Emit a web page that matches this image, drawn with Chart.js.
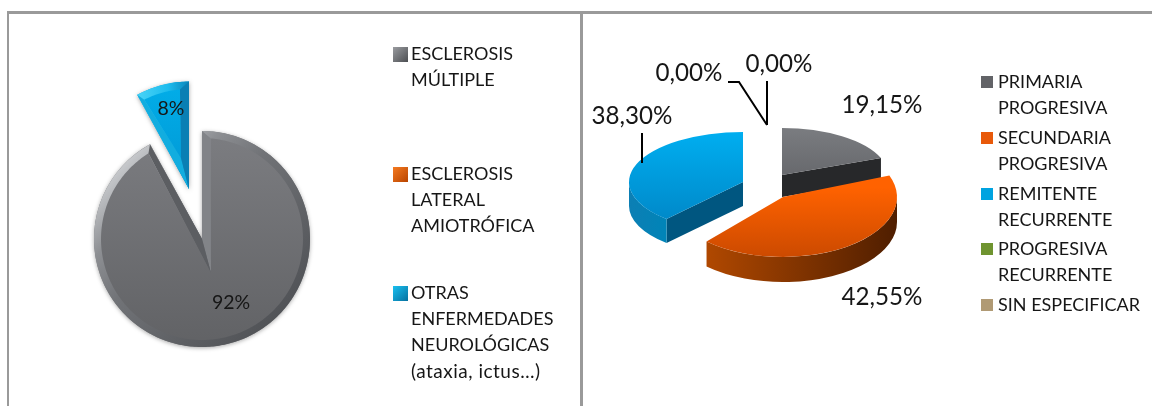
<!DOCTYPE html>
<html><head><meta charset="utf-8">
<script src="https://cdn.jsdelivr.net/npm/chart.js@4"></script>
<style>
html,body{margin:0;padding:0;background:#fff;width:1152px;height:406px;overflow:hidden}
canvas{position:absolute;top:0;filter:blur(.4px)}
.rule{position:absolute;background:#9a9a9a}
</style></head><body>
<div class="rule" style="left:8px;top:11px;width:1144px;height:3px"></div>
<div class="rule" style="left:7px;top:11px;width:2px;height:395px"></div>
<div class="rule" style="left:580px;top:11px;width:3px;height:395px"></div>
<canvas id="left" width="580" height="406" style="left:0"></canvas>
<canvas id="right" width="569" height="406" style="left:583px"></canvas>
<script>
// ---- data ----
const leftCategories = [['ESCLEROSIS','MÚLTIPLE'],['ESCLEROSIS','LATERAL','AMIOTRÓFICA'],['OTRAS','ENFERMEDADES','NEUROLÓGICAS','(ataxia, ictus…)']];
const leftValues = [92, 0, 8];
const leftLabels = ['92%', '', '8%'];
const rightCategories = [['PRIMARIA','PROGRESIVA'],['SECUNDARIA','PROGRESIVA'],['REMITENTE','RECURRENTE'],['PROGRESIVA','RECURRENTE'],['SIN ESPECIFICAR']];
const rightValues = [19.15, 42.55, 38.30, 0, 0];
const rightLabels = ['19,15%', '42,55%', '38,30%', '0,00%', '0,00%'];

// ---- style ----
const FONT = 'Lato, Carlito, sans-serif';
const INK = '#161616';
const leftStyle = {
  scale: [1,1,.995],
  shift: [[0,0],[0,0],[-13,-50]],
  labelAt: [[231,303],null,[171,109]],
  legendX: 393, legendTextX: 411, lineH: 26.3,
  legendY: [54,174,293],
  swatch: [['#9a9ca0','#4c4e52'],['#f57a20','#b84400'],['#19c0f0','#06709f']],
  swatchSize: 15
};
const rightStyle = {
  scale: [[1.06,.47],[1.14,.60],[1.14,.50],[1,.5],[1,.5]],
  shift: [[17,-11],[18,11],[-22,-4],[0,0],[0,0]],
  depth: [22,25,24,0,0],
  faces: [['#7a7c80','#55565a',0],['#ff6200','#cc4a00',.42],['#00aef0','#0084c4',0],['#6b8e23','#6b8e23',0],['#b09a74','#b09a74',0]],
  walls: [['#2b2c2e','#242527'],['#b04800','#4f1e00'],['#0c7fb4','#0084b8'],['#000','#000'],['#000','#000']],
  cutWalls: ['#27282a','#000','#005680','#000','#000'],
  labelAt: [[882,105],[882,297],[632,116],[689,73],[779,64]],
  leaders: [null,null,[[642,133],[642,163]],[[728,82],[739,82],[767,125]],[[767,81],[767,125]]],
  legendColors: ['#626367','#e8590a','#00a3e0','#6f9430','#b09a74'],
  legendY: [82,138,194,249,305],
  legendX: 981, legendTextX: 998, lineH: 25.7, swatchSize: 12
};
const bevels = {
  0:{apex:[9,34], f:.935, d0:5, d1:3.2,
     ring:[[0,'#cdcfd2'],[.22,'#8d8f93'],[.42,'#717377'],[1,'#505256']], side0:'#828488', side1:'#5c5e62',
     ringBox:[-80,-80,80,80], faceBox:[-108,108],
     face:[[0,'#7c7d81'],[1,'#616265']]},
  2:{apex:[-8,-31], f:.93, d0:2.2, d1:5.2,
     ring:[[0,'#4ad4f7'],[.6,'#1dbcee'],[1,'#0a86bb']], side0:'#12addf', side1:'#0a7fb4',
     ringBox:[-52,0,0,0], faceBox:[-109,0],
     face:[[0,'#02aee9'],[1,'#0097d4']]}
};

function polar(el, a, f){ return [el.x + Math.cos(a)*el.outerRadius*f, el.y + Math.sin(a)*el.outerRadius*f]; }
function poly(ctx, pts, fill){
  ctx.beginPath(); pts.forEach((p,k)=> k?ctx.lineTo(p[0],p[1]):ctx.moveTo(p[0],p[1])); ctx.closePath();
  ctx.fillStyle = fill; ctx.fill();
}
function stops(g, list){ list.forEach(s=>g.addColorStop(s[0],s[1])); return g; }
const D = Math.PI/180;

// flat bevelled pie (left)
const bevelPie = {
  id:'bevelPie',
  beforeDatasetDraw(chart,args){
    const ctx = chart.ctx, arcs = args.meta.data, st = leftStyle;
    [0,2].forEach(i=>{
      const el = arcs[i], c = bevels[i], k = st.scale[i];
      const ox = el.x + st.shift[i][0], oy = el.y + st.shift[i][1], R = el.outerRadius*k;
      const pt = (a,f)=>[ox + Math.cos(a)*R*f, oy + Math.sin(a)*R*f];
      const sweep = (a0,a1,f)=>{ const out=[]; for(let a=a0;a<a1;a+=D) out.push(pt(a,f)); out.push(pt(a1,f)); return out; };
      ctx.save();
      ctx.translate(ox,oy); ctx.scale(k,k); ctx.translate(-el.x,-el.y);
      ctx.shadowColor='rgba(0,0,0,.35)'; ctx.shadowBlur=4; ctx.shadowOffsetY=1;
      el.draw(ctx);
      ctx.restore();
      const a0 = el.startAngle, a1 = el.endAngle, C = [ox,oy];
      const b = c.ringBox;
      poly(ctx,[C,...sweep(a0,a1,1)],stops(ctx.createLinearGradient(ox+b[0],oy+b[1],ox+b[2],oy+b[3]),c.ring));
      const apex = [ox+c.apex[0], oy+c.apex[1]];
      const t0 = a0+c.d0*D, t1 = a1-c.d1*D;
      poly(ctx,[C,pt(a0,1),pt(t0,c.f),apex],c.side0);
      poly(ctx,[C,pt(a1,1),pt(t1,c.f),apex],c.side1);
      poly(ctx,[apex,...sweep(t0,t1,c.f)],stops(ctx.createLinearGradient(0,oy+c.faceBox[0],0,oy+c.faceBox[1]),c.face));
    });
    return false;
  },
  afterDatasetsDraw(chart){
    const ctx = chart.ctx, st = leftStyle;
    ctx.font = '19.5px '+FONT; ctx.fillStyle=INK; ctx.textAlign='center'; ctx.textBaseline='middle';
    leftLabels.forEach((t,i)=>{ if(t) ctx.fillText(t, st.labelAt[i][0], st.labelAt[i][1]); });
    leftCategories.forEach((lines,i)=>{
      const y = st.legendY[i], s = st.swatchSize;
      const g = ctx.createLinearGradient(st.legendX,y-7,st.legendX+s,y+8);
      g.addColorStop(0,st.swatch[i][0]); g.addColorStop(1,st.swatch[i][1]);
      ctx.fillStyle=g; ctx.fillRect(st.legendX,y-7,s,s);
      ctx.fillStyle=INK; ctx.textAlign='left';
      lines.forEach((l,k)=>{
        const lower = l.startsWith('(');
        ctx.font=(lower?'19px ':'18px ')+FONT;
        ctx.letterSpacing = lower?'.5px':'0px';
        ctx.fillText(l,st.legendTextX,y+k*st.lineH);
      });
      ctx.letterSpacing='0px';
    });
  }
};

// 3D exploded pie (right)
const pie3d = {
  id:'pie3d',
  beforeDatasetDraw(chart,args){
    const ctx = chart.ctx, arcs = args.meta.data, st = rightStyle;
    const order = arcs.map((_,i)=>i).filter(i=>arcs[i].circumference>0).sort((a,b)=>st.shift[a][1]-st.shift[b][1]);
    order.forEach(i=>{
      const el = arcs[i], R = el.outerRadius, d = st.depth[i];
      ctx.save();
      ctx.translate(el.x + st.shift[i][0], el.y + st.shift[i][1]);
      ctx.scale(st.scale[i][0], st.scale[i][1]);
      ctx.translate(-el.x, -el.y);
      const dl = d/st.scale[i][1];
      const a0 = el.startAngle, a1 = el.endAngle;
      // radial cut walls
      [[a0,a0-Math.PI/2],[a1,a1+Math.PI/2]].forEach(([a,n])=>{
        if(Math.sin(n)>.02){
          const p = polar(el,a,1);
          poly(ctx,[[el.x,el.y],p,[p[0],p[1]+dl],[el.x,el.y+dl]],st.cutWalls[i]);
        }
      });
      // outer wall
      const b0 = Math.max(a0,0), b1 = Math.min(a1,Math.PI);
      if(b1>b0){
        const g = ctx.createLinearGradient(el.x+Math.cos(b1)*R,0,el.x+Math.cos(b0)*R,0);
        g.addColorStop(0,st.walls[i][0]); g.addColorStop(1,st.walls[i][1]);
        ctx.beginPath(); ctx.arc(el.x,el.y,R,b0,b1); ctx.arc(el.x,el.y+dl,R,b1,b0,true); ctx.closePath();
        ctx.fillStyle=g; ctx.fill();
      }
      el.draw(ctx);
      ctx.restore();
    });
    return false;
  },
  afterDatasetsDraw(chart){
    const ctx = chart.ctx, st = rightStyle, X0 = chart.canvas.offsetLeft;
    ctx.strokeStyle='#000'; ctx.lineWidth=2; ctx.lineJoin='miter';
    st.leaders.forEach(L=>{
      if(!L) return;
      ctx.beginPath(); L.forEach((p,k)=>k?ctx.lineTo(p[0]-X0,p[1]):ctx.moveTo(p[0]-X0,p[1])); ctx.stroke();
    });
    ctx.font='24.2px '+FONT; ctx.fillStyle=INK; ctx.textAlign='center'; ctx.textBaseline='middle';
    rightLabels.forEach((t,i)=>ctx.fillText(t,st.labelAt[i][0]-X0,st.labelAt[i][1]));
    rightCategories.forEach((lines,i)=>{
      const y = st.legendY[i], s = st.swatchSize;
      ctx.fillStyle=st.legendColors[i]; ctx.fillRect(st.legendX-X0,y-s/2,s,s);
      ctx.fillStyle=INK; ctx.textAlign='left'; ctx.font='18px '+FONT;
      lines.forEach((l,k)=>ctx.fillText(l,st.legendTextX-X0,y+k*st.lineH));
    });
  }
};

const common = {responsive:false, animation:false, events:[], plugins:{legend:{display:false},tooltip:{enabled:false}}};

new Chart(document.getElementById('left'),{
  type:'pie',
  data:{labels:leftCategories.map(l=>l.join(' ')),datasets:[{data:leftValues,borderWidth:0,backgroundColor:['#76787c','#e8590a','#00a5e3']}]},
  options:{...common,radius:108,layout:{padding:{left:0,right:176,top:72,bottom:0}}},
  plugins:[bevelPie]
});
new Chart(document.getElementById('right'),{
  type:'pie',
  data:{labels:rightCategories.map(l=>l.join(' ')),datasets:[{data:rightValues,borderWidth:0,
    backgroundColor:c=>{
      const a=c.chart.chartArea; if(!a) return '#888';
      const cy=(a.top+a.bottom)/2, f=rightStyle.faces[c.dataIndex];
      const g=c.chart.ctx.createLinearGradient(0,cy-100,0,cy+100);
      g.addColorStop(f[2],f[0]); g.addColorStop(1,f[1]); return g;
    }}]},
  options:{...common,radius:100,layout:{padding:{left:0,right:205,top:0,bottom:34}}},
  plugins:[pie3d]
});
</script></body></html>
